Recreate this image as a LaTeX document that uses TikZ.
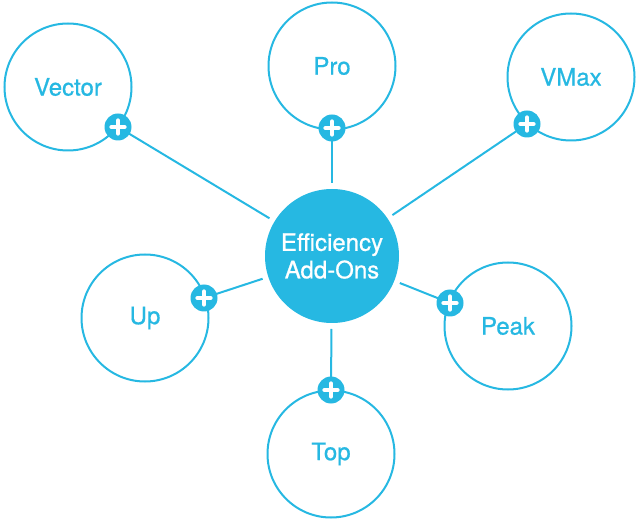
\documentclass[tikz,border=0pt]{standalone}
\usepackage{fontspec}
\setmainfont{TeX Gyre Heros}
\newfontfamily\lblfont{TeX Gyre Heros}[FakeBold=0.7]
\definecolor{cy}{RGB}{38,184,226}
\tikzset{
  outer/.style={circle,draw=cy,line width=2pt,minimum size=127pt,inner sep=0pt,fill=white,text=cy,font=\lblfont\fontsize{24}{28}\selectfont},
  hub/.style={circle,fill=cy,minimum size=134pt,inner sep=0pt,text=white,align=center,font=\lblfont\fontsize{24}{27.5}\selectfont,outer sep=6pt},
  plusnode/.style={circle,fill=cy,minimum size=27pt,inner sep=0pt,
    path picture={\draw[white,line width=4.8pt,line cap=round]
      ([xshift=-6.3pt]path picture bounding box.center) -- ([xshift=6.3pt]path picture bounding box.center)
      ([yshift=-6.3pt]path picture bounding box.center) -- ([yshift=6.3pt]path picture bounding box.center);}},
  link/.style={draw=cy,line width=2pt}
}
\begin{document}
\begin{tikzpicture}[x=1pt,y=-1pt]
\useasboundingbox (0,0) rectangle (640,521);
\node[hub] (hub) at (332,256) {Efficiency\\Add-Ons};
\node[outer] (vector) at (68,87) {Vector};
\node[outer] (pro) at (332,66) {Pro};
\node[outer] (vmax) at (571,77) {VMax};
\node[outer] (up) at (145,318) {Up};
\node[outer] (peak) at (508,326) {Peak};
\node[outer] (top) at (331,454) {Top};
\coordinate (c1) at (118,127);
\coordinate (c2) at (332,128);
\coordinate (c3) at (527,124);
\coordinate (c4) at (204,298);
\coordinate (c5) at (450,303);
\coordinate (c6) at (331,390);
\foreach \i in {1,...,6} {\draw[link] (hub) -- (c\i);}
\foreach \i in {1,...,6} {\node[plusnode] (p\i) at (c\i) {};}
\end{tikzpicture}
\end{document}
